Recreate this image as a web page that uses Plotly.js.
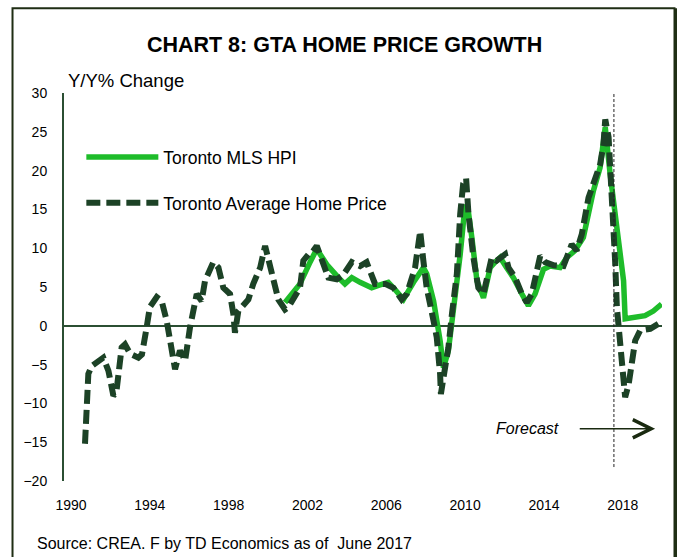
<!DOCTYPE html>
<html>
<head>
<meta charset="utf-8">
<script src="https://cdn.plot.ly/plotly-3.0.1.min.js"></script>
<style>
  html, body { margin: 0; padding: 0; background: #ffffff; }
  #chart { width: 681px; height: 557px; }
</style>
</head>
<body>
<div id="chart"></div>
<script>
// Toronto Average Home Price, Y/Y % change (dashed)
const avgYears = [1990.71,1990.88,1991.05,1991.64,1991.9,1992.15,1992.3,1992.57,1992.74,1993.0,1993.42,1993.6,1993.84,1994.0,1994.35,1994.6,1994.86,1995.1,1995.28,1995.53,1995.79,1996.04,1996.2,1996.38,1996.63,1996.8,1997.22,1997.48,1997.73,1998.07,1998.24,1998.32,1998.49,1998.83,1999.0,1999.25,1999.6,1999.85,2000.1,2000.36,2000.52,2000.86,2001.03,2001.62,2001.79,2002.05,2002.22,2002.47,2002.64,2002.9,2003.06,2003.49,2003.8,2004.25,2004.67,2005.0,2005.18,2005.43,2005.94,2006.36,2006.78,2007.04,2007.46,2007.72,2007.88,2008.05,2008.4,2008.56,2008.73,2008.77,2008.9,2009.15,2009.33,2009.58,2009.75,2009.9,2010.05,2010.17,2010.42,2010.67,2010.93,2011.18,2011.35,2011.6,2012.03,2012.2,2012.54,2012.88,2013.13,2013.38,2013.64,2013.81,2014.06,2014.5,2014.99,2015.24,2015.41,2015.66,2015.92,2016.26,2016.6,2016.85,2017.02,2017.11,2017.28,2017.45,2017.61,2017.7,2017.87,2018.04,2018.12,2018.3,2018.46,2018.63,2018.88,2019.39,2019.9];
const avgValues = [-15.2,-6.2,-5.2,-4.1,-5.8,-9.0,-8.6,-2.8,-2.4,-3.6,-4.1,-3.7,-0.2,2.4,3.7,3.2,0.6,-2.8,-5.6,-3.2,-4.5,-0.2,1.9,4.1,3.2,5.8,8.2,7.5,4.9,4.1,1.5,-0.9,1.9,3.0,3.4,5.4,7.5,10.3,7.5,4.9,3.4,2.1,2.4,4.9,8.4,9.2,9.4,10.3,9.2,7.5,6.2,6.0,6.5,8.2,7.7,8.2,6.9,5.4,5.4,4.9,3.4,4.1,7.5,12.2,8.4,4.9,0.6,-1.5,-6.2,-8.8,-6.7,-2.8,1.5,6.7,14.4,18.3,19.0,14.4,8.8,4.9,4.1,7.5,8.8,8.4,9.2,7.5,6.2,4.1,3.0,4.1,7.5,9.0,8.2,7.8,7.7,9.7,10.5,9.7,11.8,16.5,19.1,20.8,23.4,26.6,24.3,17.0,8.4,2.4,-1.9,-5.4,-9.2,-7.5,-4.5,-1.9,-0.6,-0.4,0.4];

// Toronto MLS HPI, Y/Y % change (solid)
const hpiYears = [2000.86,2001.62,2002.13,2002.47,2002.98,2003.23,2003.57,2003.9,2004.25,2004.67,2005.26,2005.6,2006.1,2006.36,2006.87,2007.38,2007.88,2008.05,2008.4,2008.73,2008.9,2009.15,2009.4,2009.75,2010.0,2010.17,2010.34,2010.6,2010.93,2011.27,2011.52,2011.78,2012.1,2012.45,2012.88,2013.21,2013.55,2013.98,2014.31,2014.82,2015.16,2015.58,2016.0,2016.51,2016.85,2017.11,2017.36,2017.61,2017.87,2018.04,2018.12,2018.54,2019.13,2019.55,2019.97];
const hpiValues = [3.0,5.4,8.2,9.9,7.9,7.1,6.2,5.4,6.2,5.6,4.9,5.2,5.6,4.9,3.4,5.6,7.5,6.7,3.2,-1.9,-5.4,-3.2,1.5,9.2,15.6,14.6,11.4,5.8,3.6,7.5,8.2,8.8,7.5,6.2,4.1,2.6,4.1,7.3,7.7,7.5,8.8,9.7,11.4,17.4,20.4,25.6,19.5,14.4,9.7,5.8,0.9,1.1,1.3,1.9,2.8];

const tickYears = [1990,1994,1998,2002,2006,2010,2014,2018];
const tickYearLabels = ['1990','1994','1998','2002','2006','2010','2014','2018'];
const yTicks = [-20,-15,-10,-5,0,5,10,15,20,25,30];

const seriesNames = ['Toronto MLS HPI','Toronto Average Home Price'];
const forecastStart = 2017.55;

const FONT = 'Arial, "Liberation Sans", Helvetica, sans-serif';
const GREEN = '#1ebc2a';
const DARK = '#1c4226';
const AXIS = '#2b4f33';

const traces = [
  {
    x: hpiYears, y: hpiValues, type: 'scatter', mode: 'lines',
    name: seriesNames[0],
    line: {color: GREEN, width: 5.5},
    legend: 'legend'
  },
  {
    x: avgYears, y: avgValues, type: 'scatter', mode: 'lines',
    name: seriesNames[1],
    line: {color: DARK, width: 6, dash: '14px,6px'},
    legend: 'legend2'
  }
];

const layout = {
  width: 681, height: 557,
  margin: {l: 64, r: 19, t: 93, b: 76},
  paper_bgcolor: '#ffffff', plot_bgcolor: '#ffffff',
  font: {family: FONT, color: '#000000', size: 14},
  title: {
    text: '<b>CHART 8: GTA HOME PRICE GROWTH</b>',
    font: {family: FONT, size: 21.5, color: '#000000'},
    xref: 'container', x: 0.506, xanchor: 'center',
    yref: 'container', y: 0.920, yanchor: 'middle'
  },
  xaxis: {
    range: [1989.645, 2019.99],
    tickmode: 'array', tickvals: tickYears, ticktext: tickYearLabels,
    showgrid: false, zeroline: false, showline: false, ticks: '',
    ticklabelstandoff: 14,
    tickfont: {family: FONT, size: 14, color: '#000000'}
  },
  yaxis: {
    range: [-20, 30],
    tickmode: 'array', tickvals: yTicks,
    showgrid: false, showline: true, linecolor: AXIS, linewidth: 2,
    zeroline: true, zerolinecolor: AXIS, zerolinewidth: 2,
    ticks: '', ticklabelstandoff: 12,
    tickfont: {family: FONT, size: 14, color: '#000000'}
  },
  showlegend: true,
  legend: {
    x: 0.029, xanchor: 'left', y: 0.835, yanchor: 'middle',
    bgcolor: 'rgba(0,0,0,0)', borderwidth: 0,
    itemwidth: 72,
    font: {family: FONT, size: 17.5, color: '#000000'}
  },
  legend2: {
    x: 0.029, xanchor: 'left', y: 0.7165, yanchor: 'middle',
    bgcolor: 'rgba(0,0,0,0)', borderwidth: 0,
    itemwidth: 72,
    font: {family: FONT, size: 17.5, color: '#000000'}
  },
  shapes: [
    {type: 'line', xref: 'x', yref: 'y', x0: forecastStart, x1: forecastStart, y0: -18.2, y1: 30.6,
     line: {color: '#222222', width: 1, dash: '3px,2px'}},
    {type: 'rect', xref: 'paper', yref: 'paper', x0: -0.0861, x1: 1.0209, y0: -0.25, y1: 1.2183,
     line: {color: '#1f2e14', width: 2}, fillcolor: 'rgba(0,0,0,0)'},
    {type: 'line', xref: 'paper', yref: 'paper', x0: 1.0234, x1: 1.0234, y0: -0.25, y1: 1.2183,
     line: {color: '#1f2e14', width: 2}}
  ],
  annotations: [
    {text: 'Y/Y% Change', xref: 'paper', yref: 'paper', x: 0.0033, y: 1.0335,
     xanchor: 'left', yanchor: 'middle', showarrow: false,
     font: {family: FONT, size: 18.5, color: '#000000'}},
    {text: 'Source: CREA. F by TD Economics as of  June 2017', xref: 'paper', yref: 'paper',
     x: -0.0485, y: -0.1598, xanchor: 'left', yanchor: 'middle', showarrow: false,
     font: {family: FONT, size: 16, color: '#000000'}},
    {text: '<i>Forecast</i>', xref: 'x', yref: 'y', x: 2013.15, y: -13.27,
     xanchor: 'center', yanchor: 'middle', showarrow: false,
     font: {family: FONT, size: 16, color: '#000000'}},
    {text: '', xref: 'x', yref: 'y', x: 2019.64, y: -13.27,
     axref: 'x', ayref: 'y', ax: 2015.74, ay: -13.27,
     showarrow: true, arrowhead: 5, arrowsize: 2.4, arrowwidth: 1.5, arrowcolor: '#1a2a10'}
  ]
};

Plotly.newPlot('chart', traces, layout, {displayModeBar: false, staticPlot: true});
</script>
</body>
</html>
